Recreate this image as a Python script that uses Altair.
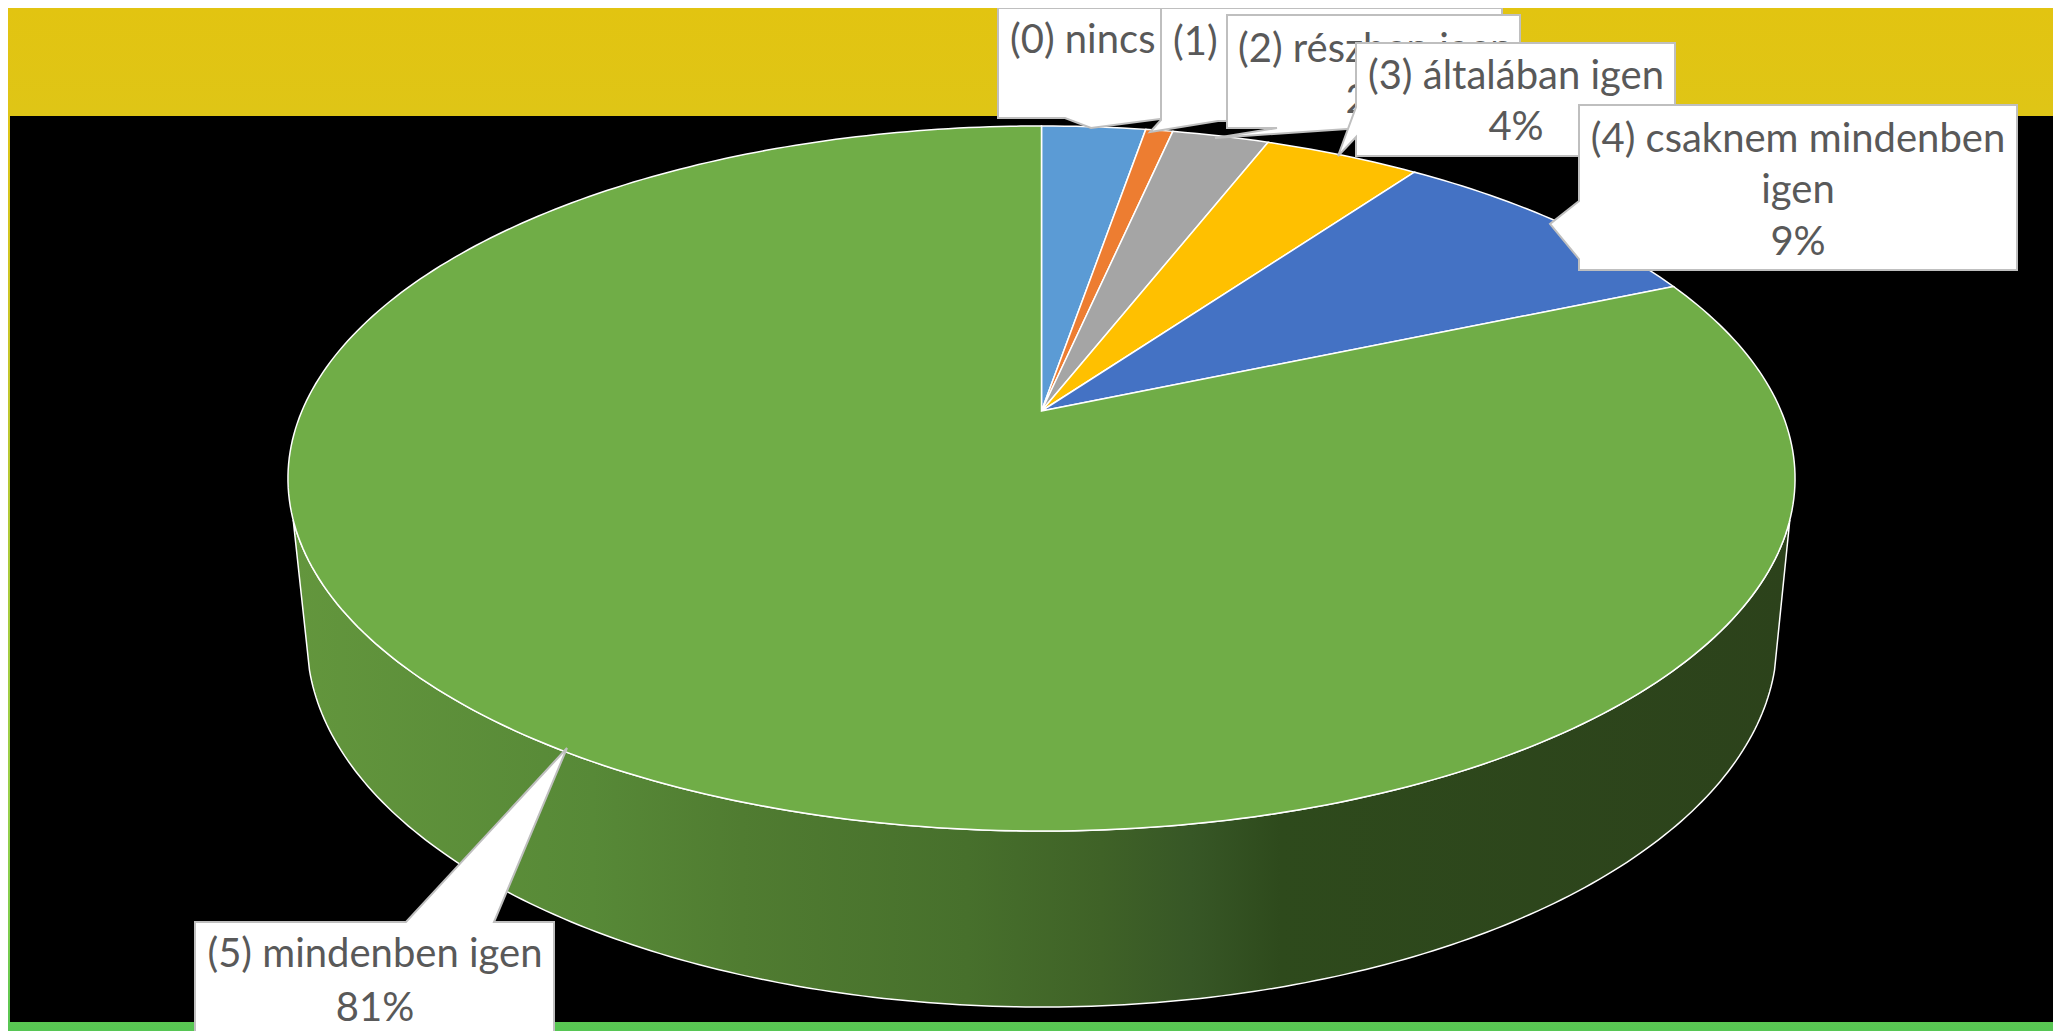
import numpy as np
import pandas as pd
import altair as alt

# ---- data
categories = ["(0) nincs", "(1)", "(2) részben igen", "(3) általában igen",
              "(4) csaknem mindenben igen", "(5) mindenben igen"]
shares = [2.68, 0.70, 2.50, 4.02, 8.65, 81.45]
slice_colors = ["#5B9BD5", "#ED7D31", "#A5A5A5", "#FFC000", "#4472C4", "#70AD47"]
percent_labels = ["3%", "1%", "2%", "4%", "9%", "81%"]

# ---- page geometry (reference pixel coordinates)
X0, X1, Y0, Y1 = 8, 2053, 8, 1031
W, H = X1 - X0, Y1 - Y0
CX, CY_APEX = 1041.5, 411
TILT, DEPTH, SPREAD = -0.1915, 339.6, 739.6
LOW_CX, LOW_CY, LOW_A, LOW_B = 1042, 640, 735, 367

x_scale = alt.Scale(domain=[X0, X1], nice=False, zero=False)
y_scale = alt.Scale(domain=[Y1, Y0], nice=False, zero=False)


def rim(phi):
    s, t = np.sin(phi), -np.cos(phi)
    w = 1 + TILT * t
    return CX + SPREAD * s / w, CY_APEX + DEPTH * t / w


def poly(xs, ys, fill, stroke, sw):
    df = pd.DataFrame({"px": xs, "py": ys, "i": range(len(xs))})
    return (
        alt.Chart(df)
        .mark_line(fill=fill, stroke=stroke, strokeWidth=sw, interpolate="linear-closed", clip=True)
        .encode(
            x=alt.X("px:Q", scale=x_scale, axis=None),
            y=alt.Y("py:Q", scale=y_scale, axis=None),
            order="i:Q",
        )
    )


def label(x, y, text, align="center", size=40):
    df = pd.DataFrame({"px": [x], "py": [y], "t": [text]})
    return (
        alt.Chart(df)
        .mark_text(font="Lato", fontSize=size, color="#595959", align=align, baseline="alphabetic")
        .encode(
            x=alt.X("px:Q", scale=x_scale, axis=None),
            y=alt.Y("py:Q", scale=y_scale, axis=None),
            text="t:N",
        )
    )


layers = []

# slide background and black panel
layers.append(
    alt.Chart(pd.DataFrame({"a": [0]}))
    .mark_rect(
        fill=alt.LinearGradient(
            gradient="linear", x1=0, x2=0, y1=0, y2=1,
            stops=[
                alt.GradientStop(offset=0.0, color="#e2c411"),
                alt.GradientStop(offset=0.1, color="#dfc516"),
                alt.GradientStop(offset=0.34, color="#c6c62a"),
                alt.GradientStop(offset=0.55, color="#aacb3c"),
                alt.GradientStop(offset=0.78, color="#98d04c"),
                alt.GradientStop(offset=0.90, color="#7fcd4e"),
                alt.GradientStop(offset=1.0, color="#56c653"),
            ],
        )
    )
    .encode(x=alt.value(0), x2=alt.value(W), y=alt.value(0), y2=alt.value(H))
)
layers.append(
    alt.Chart(pd.DataFrame({"a": [0]}))
    .mark_rect(fill="#000000")
    .encode(x=alt.value(10 - X0), x2=alt.value(W), y=alt.value(116 - Y0), y2=alt.value(1022 - Y0))
)

# side wall
upper = np.radians(np.linspace(107.6, 252.4, 160))
ux, uy = rim(upper)
low = np.radians(np.linspace(175.3, 4.7, 200))
lx = LOW_CX + LOW_A * np.cos(low)
ly = LOW_CY + LOW_B * np.sin(low)
layers.append(
    poly(
        np.r_[ux, lx], np.r_[uy, ly],
        alt.LinearGradient(
            gradient="linear", x1=0, x2=1, y1=0, y2=0,
            stops=[
                alt.GradientStop(offset=0.0, color="#63963d"),
                alt.GradientStop(offset=0.2, color="#578937"),
                alt.GradientStop(offset=0.3, color="#507c31"),
                alt.GradientStop(offset=0.45, color="#47702c"),
                alt.GradientStop(offset=0.54, color="#3f6227"),
                alt.GradientStop(offset=0.60, color="#375726"),
                alt.GradientStop(offset=0.66, color="#2e4a1c"),
                alt.GradientStop(offset=1.0, color="#2c421b"),
            ],
        ),
        "#ffffff", 1.5,
    )
)

# top slices
edges = np.r_[0, np.cumsum(shares)] / np.sum(shares) * 2 * np.pi
for a, b, c in zip(edges[:-1], edges[1:], slice_colors):
    phi = np.linspace(a, b, max(3, int((b - a) * 60)))
    rx, ry = rim(phi)
    layers.append(poly(np.r_[CX, rx], np.r_[CY_APEX, ry], c, "#ffffff", 1.5))

# callouts
BOX_STROKE = "#bfbfbf"
callouts = [
    ([998, 1065, 1091, 1160, 1395, 1395, 998], [118, 118, 128, 119, 118, 8, 8]),
    ([1161, 1150, 1218, 1502, 1502, 1161], [120, 132, 121, 120, 8, 8]),
    ([1227, 1277, 1215, 1347, 1520, 1520, 1227], [128, 128, 138, 129, 128, 15, 15]),
    ([1356, 1356, 1338, 1356, 1356, 1675, 1675], [43, 107, 156, 137, 156, 156, 43]),
    ([1579, 1579, 1550, 1579, 1579, 2017, 2017], [105, 201, 224, 259, 270, 270, 105]),
    ([195, 406, 567, 494, 554, 554, 195, 195], [922, 922, 748, 922, 922, 1040, 1040, 922]),
]
texts = [
    [(1010, 53, categories[0], "left")],
    [(1173, 55, categories[1], "left")],
    [(1238, 62, categories[2], "left"), (1373, 113, percent_labels[2], "center")],
    [(1516, 89, categories[3], "center"), (1516, 140, percent_labels[3], "center")],
    [(1798, 152, "(4) csaknem mindenben", "center"), (1798, 203, "igen", "center"),
     (1798, 255, percent_labels[4], "center")],
    [(375, 967, categories[5], "center"), (375, 1021, percent_labels[5], "center")],
]
for (bx, by), ts in zip(callouts, texts):
    layers.append(poly(bx, by, "#ffffff", BOX_STROKE, 2))
    for tx, ty, t, al in ts:
        layers.append(label(tx, ty, t, al))

chart = (
    alt.layer(*layers)
    .properties(width=W, height=H, padding=0, autosize=alt.AutoSizeParams(type="none"))
    .configure_view(strokeWidth=0, continuousWidth=W, continuousHeight=H)
)
chart.save("out.html", embed_options={"renderer": "svg", "actions": False})
